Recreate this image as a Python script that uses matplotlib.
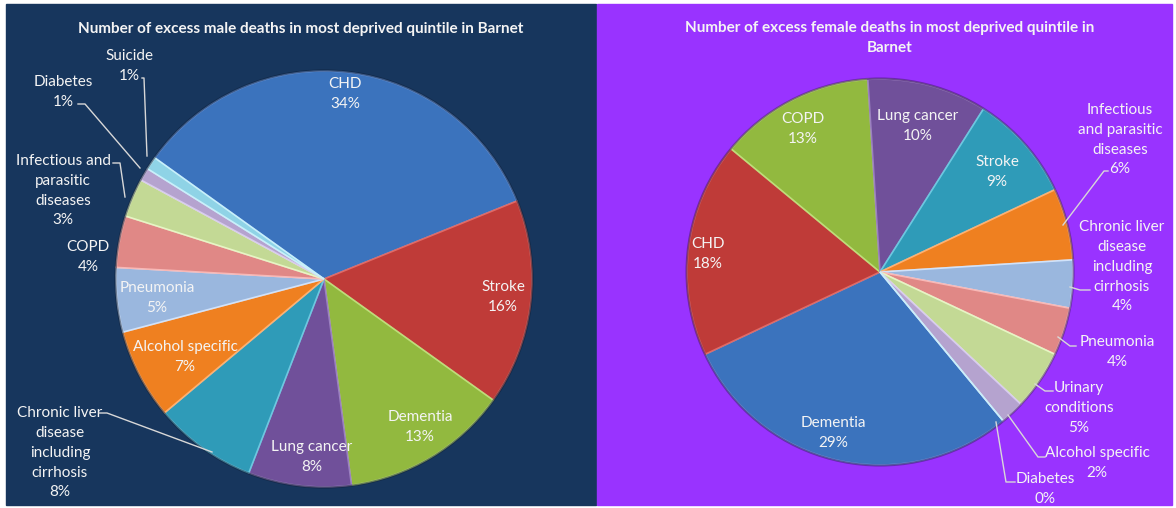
import matplotlib.pyplot as plt
from matplotlib.patches import Rectangle, Circle

W, H = 1176, 508

# male panel data (clockwise from the CHD slice)
male_causes = ["CHD", "Stroke", "Dementia", "Lung cancer",
               "Chronic liver\ndisease\nincluding\ncirrhosis",
               "Alcohol specific", "Pneumonia", "COPD",
               "Infectious and\nparasitic\ndiseases", "Diabetes", "Suicide"]
male_pct = [34, 16, 13, 8, 8, 7, 5, 4, 3, 1, 1]

# female panel data (clockwise from the Dementia slice)
female_causes = ["Dementia", "CHD", "COPD", "Lung cancer", "Stroke",
                 "Infectious\nand parasitic\ndiseases",
                 "Chronic liver\ndisease\nincluding\ncirrhosis",
                 "Pneumonia", "Urinary\nconditions", "Alcohol specific", "Diabetes"]
female_pct = [29, 18, 13, 10, 9, 6, 4, 4, 5, 2, 0]

male_title = "Number of excess male deaths in most deprived quintile in Barnet"
female_title = "Number of excess female deaths in most deprived quintile in\nBarnet"

# excel-ish palette
pal = ["#3b73bd", "#bf3b38", "#92b93f", "#70509a", "#2f9bb8", "#ef8020",
       "#9ab7de", "#e08886", "#c3d995", "#b5a3cf", "#8fd3e6"]
edge = ["#6f9be0", "#e06a66", "#bede7a", "#9b80c0", "#6cc8e0", "#ffb070",
        "#d0e2fa", "#f8b8b6", "#e6f5c4", "#d8ccee", "#c8f0fa"]


def py(y):
    # pixel row -> data y
    return H - y


fig = plt.figure(figsize=(W / 100, H / 100), dpi=100)
ax = fig.add_axes([0, 0, 1, 1])

ax.add_patch(Rectangle((6, py(505)), 590, 501, color="#17365d", zorder=0))
ax.add_patch(Rectangle((597, py(505)), 575, 501, color="#9933ff", zorder=0))

mc, mr = (324, py(279)), 208
fc, fr = (880, py(272)), 193
ax.pie(male_pct, colors=pal, startangle=144.4, counterclock=False,
       center=mc, radius=mr, wedgeprops=dict(linewidth=1.2))
ax.pie(female_pct, colors=pal, startangle=-50.4, counterclock=False,
       center=fc, radius=fr, wedgeprops=dict(linewidth=1.2))
for i, w in enumerate(ax.patches[2:13]):
    w.set_edgecolor(edge[i])
for i, w in enumerate(ax.patches[13:24]):
    w.set_edgecolor(edge[i])
# dark rim like the excel bevel
ax.add_patch(Circle(mc, mr + 0.5, fill=False, ec="#0b1a30", lw=1.5, alpha=0.5, zorder=3))
ax.add_patch(Circle(fc, fr + 0.5, fill=False, ec="#3a1060", lw=1.5, alpha=0.5, zorder=3))

txt = dict(color="#f4f4f4", fontsize=11, ha="center", va="center",
           linespacing=1.56, family="Lato")
pitch = 19.5


def label(name, v, x, y):
    # name block and percentage line, stacked like excel does
    n = name.count("\n") + 1
    ax.text(x, py(y - pitch / 2), name, **txt)
    ax.text(x, py(y + n * pitch / 2), f"{v}%", **txt)


male_pos = [(345, 94), (503, 297), (420, 427), (312, 457), (60, 453),
            (185, 357), (157, 298), (88, 257), (63, 191), (63, 92), (129, 66)]
for name, v, (x, y) in zip(male_causes, male_pct, male_pos):
    label(name, v, x, y)

female_pos = [(833, 433), (708, 254), (803, 129), (918, 126), (997, 172),
              (1120, 140), (1122, 267), (1117, 352), (1079, 408),
              (1097, 463), (1045, 489)]
for name, v, (x, y) in zip(female_causes, female_pct, female_pos):
    label(name, v, x, y)

# leader lines
leaders = [
    [(142, 78), (144, 78), (147, 156)],
    [(78, 104), (85, 104), (140, 168)],
    [(113, 163), (120, 163), (125, 197)],
    [(99, 413), (107, 413), (212, 452)],
    [(1108, 171), (1104, 171), (1063, 225)],
    [(1090, 290), (1080, 290), (1070, 287)],
    [(1076, 346), (1070, 346), (1058, 337)],
    [(1053, 391), (1045, 391), (1035, 384)],
    [(1045, 457), (1038, 457), (1008, 415)],
    [(1015, 482), (1006, 482), (996, 422)],
]
for pts in leaders:
    ax.plot([p[0] for p in pts], [py(p[1]) for p in pts],
            color="#d8d8d8", lw=1, zorder=5)

ax.text(301, py(29), male_title, color="#f4f4f4", fontsize=11,
        fontweight="bold", ha="center", va="center", family="Lato")
ax.text(890, py(38), female_title, color="#f4f4f4", fontsize=11,
        fontweight="bold", ha="center", va="center", family="Lato",
        linespacing=1.5)

ax.set_xlim(0, W)
ax.set_ylim(0, H)
ax.set_aspect("equal")
ax.axis("off")

fig.savefig("out.png", dpi=100, facecolor="white")
